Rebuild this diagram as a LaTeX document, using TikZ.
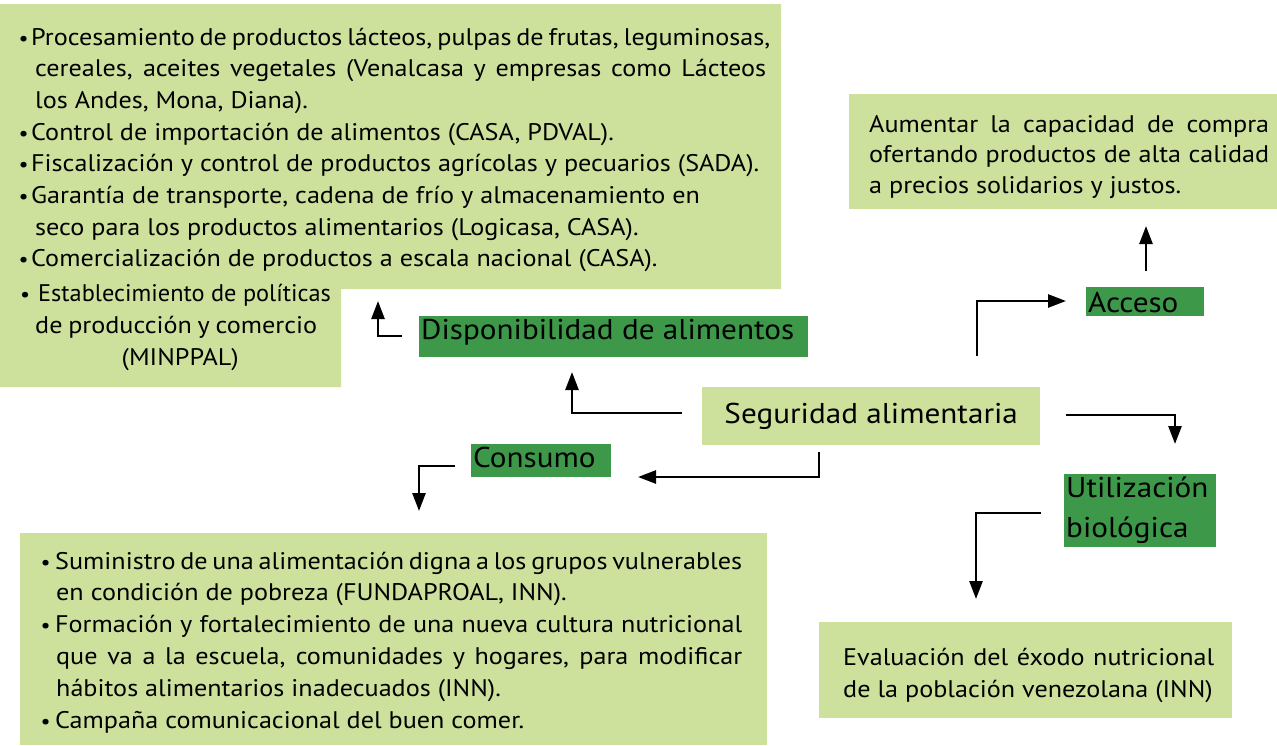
\documentclass[tikz,border=0pt]{standalone}
\usepackage{fontspec}
\setmainfont{PT Sans}[FakeStretch=1.09]
\usetikzlibrary{arrows.meta}
\definecolor{lightg}{RGB}{205,225,156}
\definecolor{darkg}{RGB}{61,153,73}
\newcommand{\blk}[2]{\vtop{\baselineskip=#1\lineskiplimit=-100pt\lineskip=0pt #2}}
\newcommand{\bulA}{\makebox[11pt][l]{\kern-1.5pt\scalebox{0.85}{•}}}
\newcommand{\bulB}{\makebox[13pt][l]{\kern-1.5pt\scalebox{0.85}{•}}}
\tikzset{
  body/.style={anchor=base west, inner sep=0pt, font=\fontsize{24}{30}\selectfont},
  lab/.style={anchor=base west, inner sep=0pt, font=\fontsize{28.6}{36}\selectfont},
  darkbox/.style={lab, fill=darkg},
  lightbox/.style={lab, fill=lightg},
  conn/.style={line width=2.6pt, -{Triangle[length=18pt,width=13pt]}}
}
\begin{document}
\begin{tikzpicture}[x=1pt,y=-1pt]
\useasboundingbox (0,0) rectangle (1277,745);
% background panels
\fill[lightg] (0,4) -- (781,4) -- (781,289) -- (341,289) -- (341,387) -- (0,387) -- cycle;
\fill[lightg] (849,94) rectangle (1277,209);
\fill[lightg] (819,622) rectangle (1232,718);
\fill[lightg] (20,533) rectangle (767,745);

% texts of panels
\node[body] (disptxt) at (20,45) {\blk{31.7pt}{%
 \hbox to 750pt{\bulA Procesamiento de productos lácteos, pulpas de frutas, leguminosas,}
 \hbox to 746pt{\kern15pt cereales, aceites vegetales (Venalcasa y empresas como Lácteos}
 \hbox{\kern15pt los Andes, Mona, Diana).}
 \hbox{\bulA Control de importación de alimentos (CASA, PDVAL).}
 \hbox{\bulA Fiscalización y control de productos agrícolas y pecuarios (SADA).}
 \hbox{\bulA Garantía de transporte, cadena de frío y almacenamiento en}
 \hbox{\kern15pt seco para los productos alimentarios (Logicasa, CASA).}
 \hbox{\bulA Comercialización de productos a escala nacional (CASA).}
 \vskip3pt
 \hbox{\makebox[18pt][l]{\scalebox{0.85}{•}}\scalebox{0.93}[1]{Establecimiento de políticas}}
 \hbox to 297pt{\kern15pt de producción y comercio}
 \hbox to 320pt{\hfil(MINPPAL)\hfil}}};

\node[body] (acctxt) at (869,132) {\blk{30.5pt}{%
 \hbox to 400pt{Aumentar la capacidad de compra}
 \hbox to 400pt{ofertando productos de alta calidad}
 \hbox{a precios solidarios y justos.}}};

\node[body] (evaltxt) at (843,665) {\blk{32pt}{%
 \hbox to 371pt{Evaluación del éxodo nutricional}
 \hbox{de la población venezolana (INN)}}};

\node[body] (constxt) at (42,569) {\blk{31.8pt}{%
 \hbox to 700pt{\bulB Suministro de una alimentación digna a los grupos vulnerables}
 \hbox{\kern14pt en condición de pobreza (FUNDAPROAL, INN).}
 \hbox to 700pt{\bulB Formación y fortalecimiento de una nueva cultura nutricional}
 \hbox to 700pt{\kern14pt que va a la escuela, comunidades y hogares, para modificar}
 \hbox{\kern14pt hábitos alimentarios inadecuados (INN).}
 \hbox{\bulB Campaña comunicacional del buen comer.}}};

% labelled boxes
\node[darkbox, text height=23pt, text depth=18pt] (disp) at (419,339)
  {\hbox to 389pt{\kern2pt Disponibilidad de alimentos\hfil}};
\node[lightbox, text height=36pt, text depth=22pt] (seg) at (702,423)
  {\hbox to 338pt{\hfil Seguridad alimentaria\hfil}};
\node[darkbox, text height=23pt, text depth=10pt] (cons) at (471,467)
  {\hbox to 140pt{\kern2pt Consumo\hfil}};
\node[darkbox, text height=25pt, text depth=4pt] (acc) at (1086,312)
  {\hbox to 118pt{\kern2pt Acceso\hfil}};
\node[darkbox, text height=23pt, text depth=50pt] (util) at (1064,497)
  {\blk{40pt}{\hbox to 152pt{\kern2pt Utilización\hfil}\hbox to 152pt{\kern2pt biológica\hfil}}};

% connector end points
\coordinate (a1s) at (402,336); \coordinate (a1e) at (378,301);
\coordinate (a2s) at (682,413); \coordinate (a2e) at (572,372);
\coordinate (a3s) at (819,452); \coordinate (a3e) at (638,477);
\coordinate (a4s) at (455,466); \coordinate (a4e) at (419,511);
\coordinate (a5s) at (977,356); \coordinate (a5e) at (1066,301);
\coordinate (a6s) at (1146,271); \coordinate (a6e) at (1146,226);
\coordinate (a7s) at (1066,415); \coordinate (a7e) at (1175,444);
\coordinate (a8s) at (1041,513); \coordinate (a8e) at (976,599);

\draw[conn] (a1s) -| (a1e);
\draw[conn] (a2s) -| (a2e);
\draw[conn] (a3s) |- (a3e);
\draw[conn] (a4s) -| (a4e);
\draw[conn] (a5s) |- (a5e);
\draw[conn] (a6s) -- (a6e);
\draw[conn] (a7s) -| (a7e);
\draw[conn] (a8s) -| (a8e);
\end{tikzpicture}
\end{document}
